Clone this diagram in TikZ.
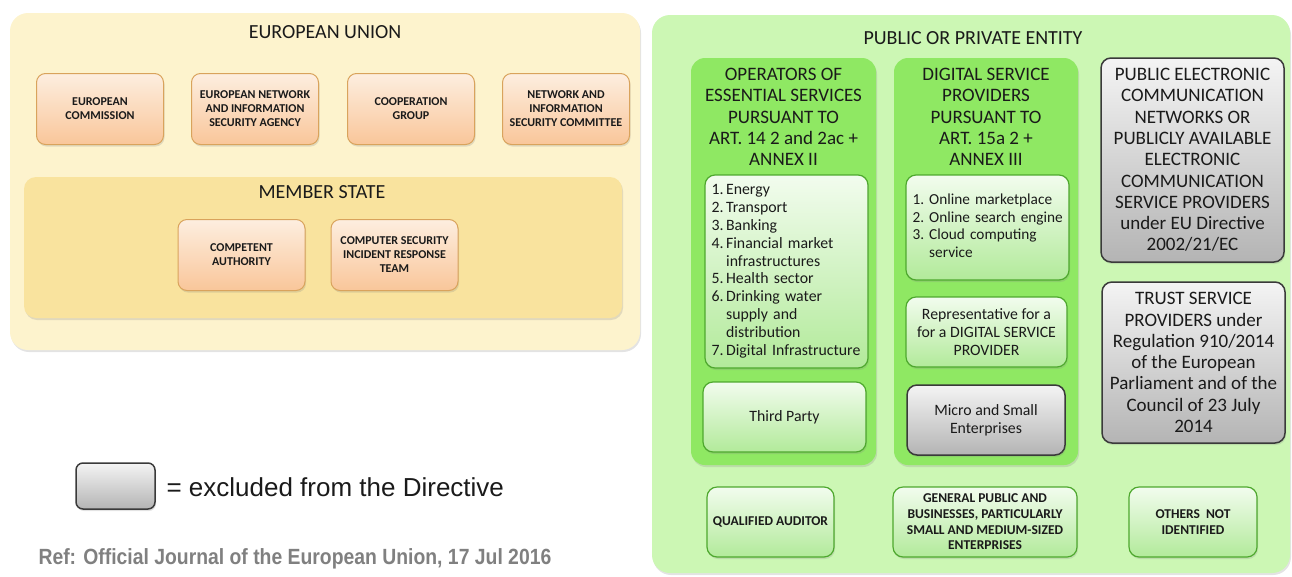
\documentclass[tikz,border=0pt]{standalone}
\usepackage{fontspec}
\setmainfont{Carlito}
\newfontfamily\arialfont{Liberation Sans}
\newfontfamily\narrowarial[FakeStretch=0.88]{Liberation Sans}
\usetikzlibrary{shadows}
\definecolor{euyellow}{HTML}{FDF3CD}
\definecolor{msyellow}{HTML}{F9E39E}
\definecolor{orangetop}{HTML}{FDEEDF}
\definecolor{orangebot}{HTML}{F9C69A}
\definecolor{orangeline}{HTML}{D9A35C}
\definecolor{greenarea}{HTML}{CCF7B4}
\definecolor{greencol}{HTML}{8FE863}
\definecolor{greenline}{HTML}{4EA82E}
\definecolor{greentop}{HTML}{F2FCEE}
\definecolor{greenbot}{HTML}{B2EA9A}
\definecolor{greytop}{HTML}{F4F4F4}
\definecolor{greybot}{HTML}{B4B4B4}
\definecolor{greyline}{HTML}{3A3A3A}
\definecolor{refgrey}{HTML}{808080}
\definecolor{ink}{HTML}{1A1A1A}

\begin{document}
\begin{tikzpicture}[x=1pt, y=-1pt, text=ink,
  soft/.style={drop shadow={opacity=0.22, shadow xshift=1pt, shadow yshift=-2pt}},
  area/.style={soft, rounded corners=18pt, inner sep=0pt},
  title/.style={font=\fontsize{20}{24}\selectfont},
  orangebox/.style={soft, draw=orangeline, line width=1pt, rounded corners=9pt,
    top color=orangetop, bottom color=orangebot, align=center,
    font=\bfseries\fontsize{12}{14}\selectfont,
    minimum width=127pt, minimum height=71pt},
  greenbox/.style={soft, draw=greenline, line width=1.2pt, rounded corners=10pt,
    top color=greentop, bottom color=greenbot, align=center,
    font=\fontsize{15.8}{17.8}\selectfont},
  lowbox/.style={greenbox, font=\bfseries\fontsize{13.5}{15.7}\selectfont,
    minimum height=70pt},
  exclbox/.style={soft, draw=greyline, line width=1.5pt, rounded corners=10pt,
    top color=greytop, bottom color=greybot, align=center,
    font=\fontsize{19}{21.3}\selectfont},
  column/.style={area, fill=greencol, rounded corners=14pt},
  colhead/.style={align=center, font=\fontsize{19}{21.3}\selectfont}]
\useasboundingbox (0,0) rectangle (1292,576);

\node[area, fill=euyellow, minimum width=630pt, minimum height=337pt] (eu) at (325,181.5) {};
\node[title] (eutitle) at (325,32) {EUROPEAN UNION};
\node[orangebox] (ec) at (100,109) {EUROPEAN\\COMMISSION};
\node[orangebox] (enisa) at (255,109) {EUROPEAN NETWORK\\AND INFORMATION\\SECURITY AGENCY};
\node[orangebox] (coop) at (411,109) {COOPERATION\\GROUP};
\node[orangebox] (nisc) at (566,109) {NETWORK AND\\INFORMATION\\SECURITY COMMITTEE};

\node[area, fill=msyellow, rounded corners=12pt, minimum width=598pt, minimum height=141pt] (ms) at (323,247.5) {};
\node[title] (mstitle) at (322,192) {MEMBER STATE};
\node[orangebox] (ca) at (241.5,255) {COMPETENT\\AUTHORITY};
\node[orangebox] (csirt) at (394.5,255) {COMPUTER SECURITY\\INCIDENT RESPONSE\\TEAM};

\node[exclbox, rounded corners=7pt, minimum width=79pt, minimum height=46pt] (legbox) at (115.5,486) {};
\node[anchor=west, font=\arialfont\fontsize{26}{30}\selectfont] (legtext) at (163,487) {= excluded from the Directive};
\node[anchor=west, text=refgrey, font=\narrowarial\bfseries\fontsize{22}{26}\selectfont] (reftext) at (35,559) {Ref: Official Journal of the European Union, 17 Jul 2016};

\node[area, fill=greenarea, minimum width=638pt, minimum height=558pt] (entity) at (971,294) {};
\node[title] (entitytitle) at (973,38) {PUBLIC OR PRIVATE ENTITY};

\node[column, minimum width=185pt, minimum height=407pt] (oes) at (783.5,261.5) {};
\node[colhead] (oeshead) at (783.5,117) {OPERATORS OF\\ESSENTIAL SERVICES\\PURSUANT TO\\ART. 14 2 and 2ac +\\ANNEX II};
\node[greenbox, minimum width=163pt, minimum height=193pt, text width=150pt, align=left] (sectors) at (786.5,271.5)
  {\begin{tabular}{@{}r@{\,}l@{}}
   1. & Energy\\ 2. & Transport\\ 3. & Banking\\ 4. & Financial market\\ & infrastructures\\
   5. & Health sector\\ 6. & Drinking water\\ & supply and\\ & distribution\\ 7. & Digital Infrastructure
   \end{tabular}};
\node[greenbox, minimum width=163pt, minimum height=70pt] (third) at (784.5,417) {Third Party};

\node[column, minimum width=184pt, minimum height=407pt] (dsp) at (986,261.5) {};
\node[colhead] (dsphead) at (986,117) {DIGITAL SERVICE\\PROVIDERS\\PURSUANT TO\\ART. 15a 2 +\\ANNEX III};
\node[greenbox, font=\fontsize{15.3}{17.8}\selectfont, minimum width=163pt, minimum height=105pt, text width=150pt, align=left] (online) at (987.5,227.5)
  {\begin{tabular}{@{}r@{\ }l@{}}
   1. & Online marketplace\\ 2. & Online search engine\\ 3. & Cloud computing\\ & service
   \end{tabular}};
\node[greenbox, minimum width=161pt, minimum height=70pt] (rep) at (986.5,332) {Representative for a\\for a DIGITAL SERVICE\\PROVIDER};
\node[exclbox, font=\fontsize{15.8}{17.8}\selectfont, minimum width=158pt, minimum height=70pt] (micro) at (986,420) {Micro and Small\\Enterprises};

\node[exclbox, minimum width=183pt, minimum height=204pt] (ecomm) at (1192.5,160) {PUBLIC ELECTRONIC\\COMMUNICATION\\NETWORKS OR\\PUBLICLY AVAILABLE\\ELECTRONIC\\COMMUNICATION\\SERVICE PROVIDERS\\under EU Directive\\2002/21/EC};
\node[exclbox, minimum width=183pt, minimum height=161pt] (trust) at (1193.5,362.5) {TRUST SERVICE\\PROVIDERS under\\Regulation 910/2014\\of the European\\Parliament and of the\\Council of 23 July\\2014};

\node[lowbox, minimum width=127pt] (auditor) at (770.5,522) {QUALIFIED AUDITOR};
\node[lowbox, minimum width=184pt] (public) at (985,522) {GENERAL PUBLIC AND\\BUSINESSES, PARTICULARLY\\SMALL AND MEDIUM-SIZED\\ENTERPRISES};
\node[lowbox, minimum width=128pt] (others) at (1193,522) {OTHERS\ \ NOT\\IDENTIFIED};
\end{tikzpicture}
\end{document}
